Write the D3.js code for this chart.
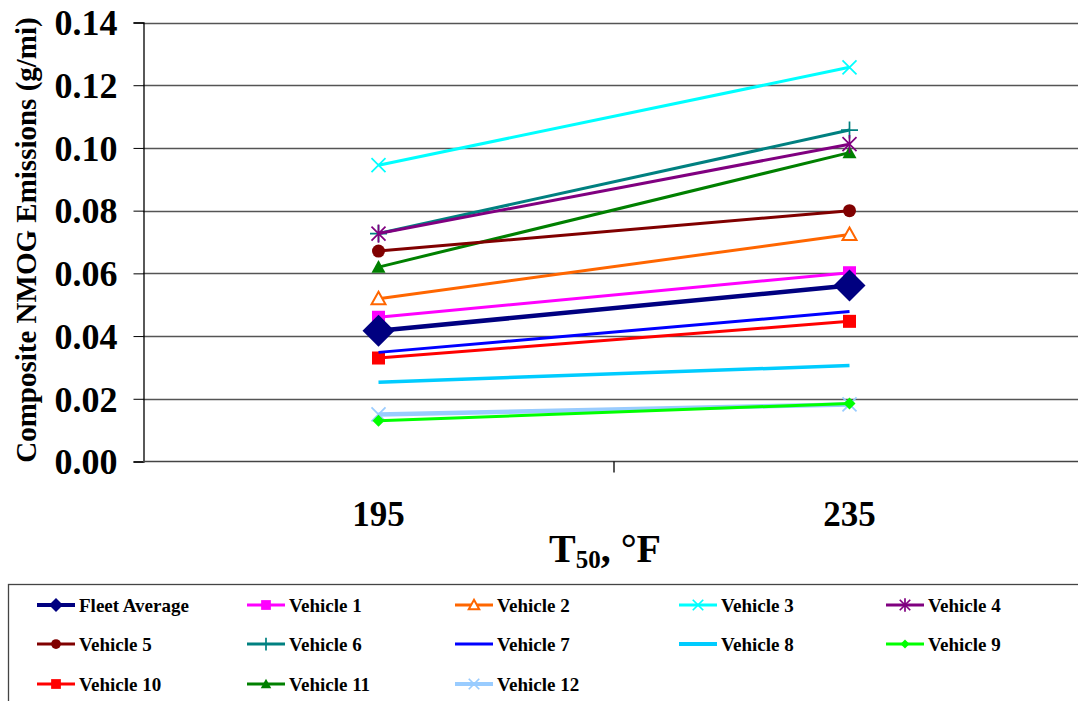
<!DOCTYPE html>
<html><head><meta charset="utf-8">
<script src="https://cdn.jsdelivr.net/npm/d3@7"></script>
<style>body{margin:0;background:#fff;} svg{display:block;} text{font-family:"Liberation Serif","Times New Roman",serif;font-weight:bold;}</style>
</head><body><svg id="c" width="1078" height="701"></svg>
<script>
const categories = ["195", "235"];
const yTicks = [0, 0.02, 0.04, 0.06, 0.08, 0.10, 0.12, 0.14];
const seriesNames = ["Fleet Average","Vehicle 1","Vehicle 2","Vehicle 3","Vehicle 4","Vehicle 5","Vehicle 6","Vehicle 7","Vehicle 8","Vehicle 9","Vehicle 10","Vehicle 11","Vehicle 12"];
const fleetAverage = [0.0417, 0.0561];
const vehicle1 = [0.0460, 0.0602];
const vehicle2 = [0.0519, 0.0724];
const vehicle3 = [0.0945, 0.1257];
const vehicle4 = [0.0727, 0.1012];
const vehicle5 = [0.0671, 0.0800];
const vehicle6 = [0.0727, 0.1057];
const vehicle7 = [0.0348, 0.0478];
const vehicle8 = [0.0253, 0.0306];
const vehicle9 = [0.0130, 0.0185];
const vehicle10 = [0.0330, 0.0447];
const vehicle11 = [0.0620, 0.0985];
const vehicle12 = [0.0150, 0.0182];
const seriesValues = [fleetAverage, vehicle1, vehicle2, vehicle3, vehicle4, vehicle5, vehicle6, vehicle7, vehicle8, vehicle9, vehicle10, vehicle11, vehicle12];
const seriesColors = ["#000080","#FF00FF","#FF6600","#00FFFF","#800080","#800000","#008080","#0000FF","#00CCFF","#00FF00","#FF0000","#008000","#99CCFF"];
const seriesMarkers = ["bigdiamond","square","opentriangle","x","star","circle","plus","none","none","diamond","square","triangle","x"];
const seriesWidths = [4.5, 3, 3, 3, 3, 3, 3, 3, 3.5, 3, 3, 3, 4.5];

const svg = d3.select("#c");
const x = d3.scaleBand().domain(categories).range([143, 1085]);
const y = d3.scaleLinear().domain([0, 0.14]).range([461.5, 22.5]);

// gridlines
svg.append("g").selectAll("line").data(yTicks.filter(d => d > 0)).join("line")
  .attr("x1", 143).attr("x2", 1085).attr("y1", d => Math.round(y(d)) + 0.5).attr("y2", d => Math.round(y(d)) + 0.5)
  .attr("stroke", "#555").attr("stroke-width", 1.3);

// y axis
const ya = svg.append("g").attr("transform", "translate(143.5,0)")
  .call(d3.axisLeft(y).tickValues(yTicks).tickFormat(d3.format(".2f")).tickSize(10).tickPadding(16));
ya.select(".domain").attr("stroke", "#000").attr("stroke-width", 1.3);
ya.selectAll(".tick line").attr("stroke", "#000");
ya.selectAll("text").style("font-size", "36px").attr("fill", "#000").attr("dy", "0.34em");

// x axis
const xa = svg.append("g").attr("transform", "translate(0,461.5)");
xa.append("line").attr("x1", 143).attr("x2", 1085).attr("stroke", "#444").attr("stroke-width", 1.5);
xa.append("line").attr("x1", x("235")).attr("x2", x("235")).attr("y1", 0).attr("y2", 11).attr("stroke", "#000").attr("stroke-width", 1.3);
xa.selectAll("text").data(categories).join("text")
  .attr("x", d => x(d) + x.bandwidth() / 2).attr("y", 64).attr("text-anchor", "middle")
  .style("font-size", "35px").text(d => d);

// axis titles
const xt = svg.append("text").attr("x", 605).attr("y", 562).attr("text-anchor", "middle").style("font-size", "40px");
xt.append("tspan").text("T");
xt.append("tspan").attr("dy", 6).style("font-size", "25px").text("50");
xt.append("tspan").attr("dy", -6).text(", °F");

svg.append("text").attr("transform", "translate(36,240) rotate(-90)").attr("text-anchor", "middle")
  .style("font-size", "29px").text("Composite NMOG Emissions (g/mi)");

function drawMarker(g, type, color, cx, cy, legend) {
  const s = legend ? 0.75 : 1;
  if (type === "bigdiamond") {
    const r = legend ? 7 : 16;
    g.append("path").attr("d", `M${cx},${cy-r}L${cx+r},${cy}L${cx},${cy+r}L${cx-r},${cy}Z`).attr("fill", color);
  } else if (type === "diamond") {
    const r = 6 * s;
    g.append("path").attr("d", `M${cx},${cy-r}L${cx+r},${cy}L${cx},${cy+r}L${cx-r},${cy}Z`).attr("fill", color);
  } else if (type === "square") {
    const r = 6.5 * s;
    g.append("rect").attr("x", cx - r).attr("y", cy - r).attr("width", 2 * r).attr("height", 2 * r).attr("fill", color);
  } else if (type === "circle") {
    g.append("circle").attr("cx", cx).attr("cy", cy).attr("r", 6.5 * s).attr("fill", color);
  } else if (type === "triangle" || type === "opentriangle") {
    const r = 7 * s;
    const p = g.append("path").attr("d", `M${cx},${cy-r}L${cx+r},${cy+r*0.8}L${cx-r},${cy+r*0.8}Z`);
    if (type === "triangle") p.attr("fill", color);
    else p.attr("fill", "#fff").attr("stroke", color).attr("stroke-width", 2);
  } else if (type === "x" || type === "star") {
    const r = 7 * s;
    g.append("path").attr("d", `M${cx-r},${cy-r}L${cx+r},${cy+r}M${cx-r},${cy+r}L${cx+r},${cy-r}` + (type === "star" ? `M${cx},${cy-r*1.3}L${cx},${cy+r*1.3}` : ""))
      .attr("stroke", color).attr("stroke-width", 1.7).attr("fill", "none");
  } else if (type === "plus") {
    const r = 8.5 * s;
    g.append("path").attr("d", `M${cx-r},${cy}L${cx+r},${cy}M${cx},${cy-r}L${cx},${cy+r}`)
      .attr("stroke", color).attr("stroke-width", 1.7).attr("fill", "none");
  }
}

// series (draw in reverse so fleet on top)
const order = d3.range(seriesNames.length).reverse();
const line = d3.line().x((d, i) => x(categories[i]) + x.bandwidth() / 2).y(d => y(d));
const sg = svg.append("g");
order.forEach(i => {
  const g = sg.append("g");
  g.append("path").attr("d", line(seriesValues[i])).attr("fill", "none")
    .attr("stroke", seriesColors[i]).attr("stroke-width", seriesWidths[i]);
  seriesValues[i].forEach((v, j) => drawMarker(g, seriesMarkers[i], seriesColors[i], x(categories[j]) + x.bandwidth() / 2, y(v), false));
});

// legend
const lg = svg.append("g");
lg.append("rect").attr("x", 8.5).attr("y", 584.5).attr("width", 1100).attr("height", 140)
  .attr("fill", "none").attr("stroke", "#444").attr("stroke-width", 1.3);
const colX = [37, 247, 455, 679, 886];
const rowY = [605, 644, 684];
seriesNames.forEach((name, i) => {
  const cx0 = colX[i % 5], cy0 = rowY[Math.floor(i / 5)];
  const g = lg.append("g");
  g.append("line").attr("x1", cx0).attr("x2", cx0 + 38).attr("y1", cy0).attr("y2", cy0)
    .attr("stroke", seriesColors[i]).attr("stroke-width", seriesWidths[i] === 3 ? 3 : 4);
  drawMarker(g, seriesMarkers[i], seriesColors[i], cx0 + 19, cy0, true);
  g.append("text").attr("x", cx0 + 42).attr("y", cy0 + 7).style("font-size", "19px").text(name);
});
</script></body></html>
